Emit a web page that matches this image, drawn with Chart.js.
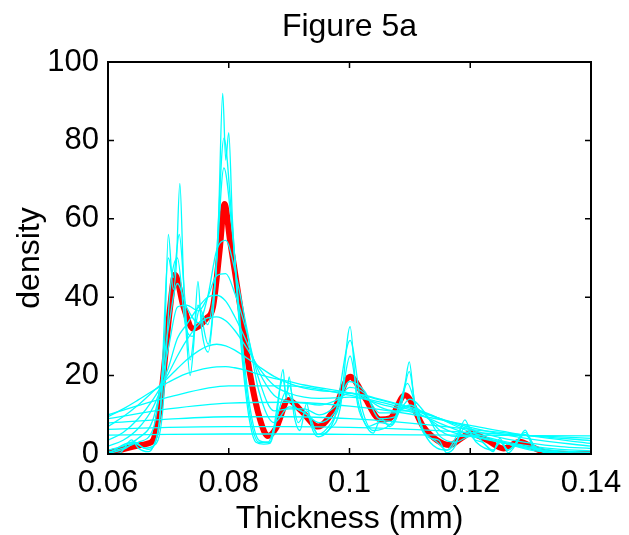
<!DOCTYPE html>
<html>
<head>
<meta charset="utf-8">
<script src="https://cdn.jsdelivr.net/npm/chart.js@4"></script>
<style>
  html, body { margin: 0; padding: 0; background: #fff; }
</style>
</head>
<body>
<canvas id="kdeChart" width="629" height="535"></canvas>
<script>
// axis range / ticks
const xMin = 0.06, xMax = 0.14, xStep = 0.02;
const yMin = 0, yMax = 100, yStep = 20;
const chartTitle = 'Figure 5a';

// wide bandwidth estimates (smooth, almost flat)
const gridWide = [0.06, 0.07, 0.08, 0.09, 0.10, 0.11, 0.12, 0.13, 0.14];
const wide1 = [4.8, 5.0, 5.1, 5.1, 5.0, 4.9, 4.8, 4.7, 4.6];
const wide2 = [6.3, 6.8, 7.0, 7.0, 6.8, 6.3, 5.5, 4.7, 4.0];
const wide3 = [7.9, 8.9, 9.5, 9.5, 9.0, 7.9, 6.3, 4.7, 3.4];
const wide4 = [9.0, 11.5, 13.0, 13.2, 12.2, 10.2, 7.3, 4.6, 2.7];
const wide5 = [10.0, 14.5, 17.4, 17.4, 15.0, 11.3, 6.8, 3.8, 2.0];

// medium bandwidth estimates
const gridMid = [0.06, 0.0625, 0.065, 0.0675, 0.07, 0.0715, 0.073, 0.075, 0.0765, 0.078,
  0.0795, 0.081, 0.083, 0.085, 0.0875, 0.09, 0.0925, 0.095, 0.0975, 0.1,
  0.1025, 0.105, 0.1075, 0.11, 0.1125, 0.115, 0.1175, 0.12, 0.125, 0.13, 0.135, 0.14];
const mid1 = [9.5, 11.5, 13.8, 16.2, 18.3, 19.5, 20.5, 21.4, 21.9, 22.2, 22.3, 22.0, 21.3, 20.3, 19.3, 18.5, 17.6, 16.9, 16.3, 15.6, 14.8, 13.8, 12.8, 11.7, 10.4, 9.0, 7.6, 6.3, 4.2, 2.8, 1.9, 1.4];
const mid2 = [7.0, 9.5, 12.5, 16.0, 19.5, 21.8, 24.0, 26.3, 27.5, 28.0, 27.6, 26.5, 24.5, 22.3, 19.8, 18.0, 16.8, 16.2, 15.9, 15.6, 15.0, 14.0, 13.0, 12.0, 10.6, 9.0, 7.2, 5.6, 3.4, 2.0, 1.2, 0.8];
const mid3 = [3.5, 5.5, 9.0, 14.0, 20.5, 25.0, 29.0, 33.0, 34.7, 35.0, 34.0, 31.5, 27.0, 22.0, 17.5, 15.5, 14.5, 14.2, 14.3, 14.5, 14.0, 12.8, 11.8, 10.8, 9.5, 7.8, 6.3, 5.0, 3.0, 1.7, 0.8, 0.4];
const mid4 = [2.0, 3.5, 6.5, 12.0, 22.0, 29.5, 33.0, 37.5, 40.0, 40.5, 39.0, 35.0, 28.5, 21.0, 15.0, 13.5, 13.0, 12.5, 13.5, 15.5, 14.5, 12.0, 11.0, 11.0, 9.5, 7.0, 5.3, 4.5, 3.0, 1.5, 0.5, 0.2];
const mid5 = [1.0, 2.0, 4.0, 9.0, 27.0, 37.5, 38.0, 36.5, 40.0, 45.5, 46.0, 41.0, 31.0, 19.0, 11.0, 11.5, 11.5, 10.0, 12.0, 17.0, 15.5, 10.5, 10.5, 12.5, 10.0, 6.0, 4.5, 4.5, 3.0, 1.3, 0.4, 0.1];
const mid6 = [0.5, 1.5, 3.0, 6.5, 32.0, 43.5, 37.5, 33.5, 40.0, 52.0, 54.5, 47.0, 32.0, 16.0, 8.0, 12.0, 10.5, 8.0, 10.5, 18.5, 16.0, 9.0, 9.5, 14.0, 10.5, 4.5, 3.0, 4.5, 3.0, 1.0, 0.3, 0.0];

// narrow bandwidth estimates (spiky)
const narrow3X = [0.06, 0.063, 0.0645, 0.066, 0.0675, 0.069, 0.0703, 0.0715, 0.0728, 0.074, 0.0752, 0.0765, 0.0778, 0.0792, 0.0805, 0.082, 0.0835, 0.085, 0.0865, 0.088, 0.0895, 0.091, 0.093, 0.0948, 0.097, 0.0985, 0.1001, 0.1015, 0.103, 0.105, 0.107, 0.1085, 0.1096, 0.111, 0.1125, 0.1145, 0.1163, 0.118, 0.1192, 0.121, 0.1238, 0.125, 0.1262, 0.1277, 0.129, 0.131, 0.134, 0.14];
const narrow3Y = [0.1, 1.5, 3.0, 1.5, 2.0, 10, 42, 50, 33, 30, 37, 33, 45, 73, 58, 32, 12, 3.5, 3.0, 9.5, 16, 12, 10, 5.0, 8, 13, 25, 13, 7, 8, 7.5, 14, 18, 12, 5, 1.5, 1.0, 4, 7, 3, 1.0, 3, 1.0, 3, 5, 1.5, 0.2, 0.0];
const narrow2X = [0.06, 0.0639, 0.0667, 0.0685, 0.0700, 0.0708, 0.0718, 0.0727, 0.0736, 0.0749, 0.0766, 0.0778, 0.0792, 0.0805, 0.082, 0.0835, 0.085, 0.0868, 0.089, 0.0895, 0.09, 0.0915, 0.0929, 0.0948, 0.0975, 0.1001, 0.102, 0.1039, 0.1067, 0.1085, 0.1099, 0.111, 0.112, 0.1145, 0.1161, 0.1191, 0.122, 0.1238, 0.1249, 0.1263, 0.1291, 0.131, 0.135, 0.14];
const narrow2Y = [0.1, 3, 1.2, 8, 50, 45, 56, 40, 24, 38, 28, 45, 80.6, 60, 30, 10, 3, 3, 19, 15, 17.5, 8, 11, 5, 9, 29, 12, 6, 7.5, 12, 21, 11, 6.5, 3, 1, 7.5, 3.2, 1, 3.5, 1, 5.5, 1.2, 0.1, 0];
const narrow1X = [0.06, 0.062, 0.0639, 0.065, 0.0667, 0.0675, 0.0685, 0.0693, 0.0700, 0.0708, 0.0713, 0.0719, 0.0725, 0.073, 0.0736, 0.0742, 0.0749, 0.0755, 0.0766, 0.0775, 0.0783, 0.0790, 0.0795, 0.0800, 0.0806, 0.0815, 0.0825, 0.0835, 0.0845, 0.0858, 0.0868, 0.0878, 0.089, 0.0895, 0.09, 0.0908, 0.0918, 0.0929, 0.0937, 0.0948, 0.0965, 0.0985, 0.1001, 0.1012, 0.1025, 0.1039, 0.1052, 0.1067, 0.108, 0.1092, 0.1099, 0.1107, 0.112, 0.1135, 0.1148, 0.1161, 0.1175, 0.1191, 0.1205, 0.122, 0.1238, 0.1249, 0.1263, 0.1278, 0.1291, 0.1303, 0.132, 0.135, 0.14];
const narrow1Y = [0, 0.3, 3.6, 1.5, 0.6, 2, 8, 25, 56, 42, 48, 69, 45, 30, 20, 28, 44, 32, 26, 38, 60, 92, 75, 82, 60, 38, 20, 8, 3, 2.5, 2.7, 8, 21.6, 14, 19.7, 10, 6, 12.9, 7, 4.4, 6, 12, 32.5, 14, 8, 5.3, 9, 7, 10, 18, 23.5, 14, 6.1, 4, 3.5, 0.3, 2, 8.7, 4, 3, 0.6, 4, 0.3, 3, 6.1, 2, 0.5, 0, 0];

// highlighted estimate (red)
const redX = [0.06, 0.062, 0.0642, 0.0664, 0.0675, 0.0686, 0.0692, 0.0703, 0.0711, 0.0725, 0.0741, 0.0763, 0.0774, 0.0785, 0.0793, 0.0802, 0.0819, 0.0835, 0.0852, 0.0865, 0.0878, 0.0899, 0.092, 0.0948, 0.0975, 0.1001, 0.1025, 0.1051, 0.1067, 0.1092, 0.1122, 0.1145, 0.1166, 0.1185, 0.12, 0.1227, 0.1255, 0.1282, 0.1305, 0.1327, 0.136, 0.14];
const redY = [0.3, 1.0, 1.9, 2.6, 3.6, 12.0, 20.6, 37.6, 45.7, 37.6, 32.0, 34.6, 37.6, 52, 63.8, 54.6, 37.6, 20.6, 8.7, 4.6, 6.5, 13.8, 11.0, 7.0, 11.5, 19.7, 14.5, 8.8, 9.1, 15.0, 7.0, 3.5, 2.3, 4.0, 5.3, 3.6, 1.4, 3.1, 1.6, 0.3, 0.0, 0.0];

function pts(xs, ys) {
  return xs.map((x, i) => ({x: x, y: ys[i]}));
}

const cyanCurves = [
  [gridWide, wide1], [gridWide, wide2], [gridWide, wide3], [gridWide, wide4], [gridWide, wide5],
  [gridMid, mid1], [gridMid, mid2], [gridMid, mid3], [gridMid, mid4], [gridMid, mid5], [gridMid, mid6],
  [narrow3X, narrow3Y], [narrow2X, narrow2Y], [narrow1X, narrow1Y]
];

const FONT = "'Liberation Sans', Arial, Helvetica, sans-serif";

const datasets = cyanCurves.map(c => ({
  data: pts(c[0], c[1]),
  borderColor: '#00ffff',
  borderWidth: 1.3,
  pointRadius: 0,
  cubicInterpolationMode: 'monotone',
  fill: false
}));
datasets.push({
  data: pts(redX, redY),
  borderColor: '#ff0000',
  borderWidth: 6,
  pointRadius: 0,
  cubicInterpolationMode: 'monotone',
  fill: false
});

// box round the plot with inward ticks on all four sides, title over the plot
const boxPlugin = {
  id: 'box',
  afterDatasetsDraw(chart) {
    const {ctx, chartArea: a, scales} = chart;
    const sx = scales.x, sy = scales.y;
    ctx.save();
    ctx.strokeStyle = '#000';
    ctx.lineWidth = 2;
    ctx.strokeRect(a.left, a.top, a.right - a.left, a.bottom - a.top);
    ctx.lineWidth = 1.5;
    ctx.beginPath();
    sx.ticks.forEach(t => {
      const px = sx.getPixelForValue(t.value);
      ctx.moveTo(px, a.bottom); ctx.lineTo(px, a.bottom - 6);
      ctx.moveTo(px, a.top); ctx.lineTo(px, a.top + 6);
    });
    sy.ticks.forEach(t => {
      const py = sy.getPixelForValue(t.value);
      ctx.moveTo(a.left, py); ctx.lineTo(a.left + 6, py);
      ctx.moveTo(a.right, py); ctx.lineTo(a.right - 6, py);
    });
    ctx.stroke();
    ctx.fillStyle = '#000';
    ctx.font = '32px ' + FONT;
    ctx.textAlign = 'center';
    ctx.textBaseline = 'middle';
    ctx.fillText(chartTitle, (a.left + a.right) / 2, 27);
    ctx.restore();
  }
};

new Chart(document.getElementById('kdeChart'), {
  type: 'line',
  data: { datasets: datasets },
  options: {
    responsive: false,
    animation: false,
    layout: { padding: { left: 0, right: 38, top: 62, bottom: 0 } },
    plugins: {
      legend: { display: false },
      tooltip: { enabled: false },
      title: { display: false }
    },
    scales: {
      x: {
        type: 'linear',
        min: xMin, max: xMax,
        grid: { display: false, drawTicks: false },
        border: { display: false },
        ticks: {
          stepSize: xStep,
          color: '#000',
          padding: 11,
          maxRotation: 0,
          font: { family: FONT, size: 31 },
          callback: v => String(+v.toFixed(2))
        },
        title: {
          display: true,
          text: 'Thickness (mm)',
          color: '#000',
          font: { family: FONT, size: 32, lineHeight: 1 },
          padding: { top: 0, bottom: 0 }
        },
        afterFit: s => { s.height = 81; s.paddingLeft = 0; s.paddingRight = 0; }
      },
      y: {
        min: yMin, max: yMax,
        grid: { display: false, drawTicks: false },
        border: { display: false },
        ticks: {
          stepSize: yStep,
          color: '#000',
          padding: 9,
          font: { family: FONT, size: 31 }
        },
        title: {
          display: true,
          text: 'density',
          color: '#000',
          font: { family: FONT, size: 32, lineHeight: 1 },
          padding: { top: 14, bottom: 0 }
        },
        afterFit: s => { s.width = 108; s.paddingTop = 0; s.paddingBottom = 0; }
      }
    }
  },
  plugins: [boxPlugin]
});
</script>
</body>
</html>
